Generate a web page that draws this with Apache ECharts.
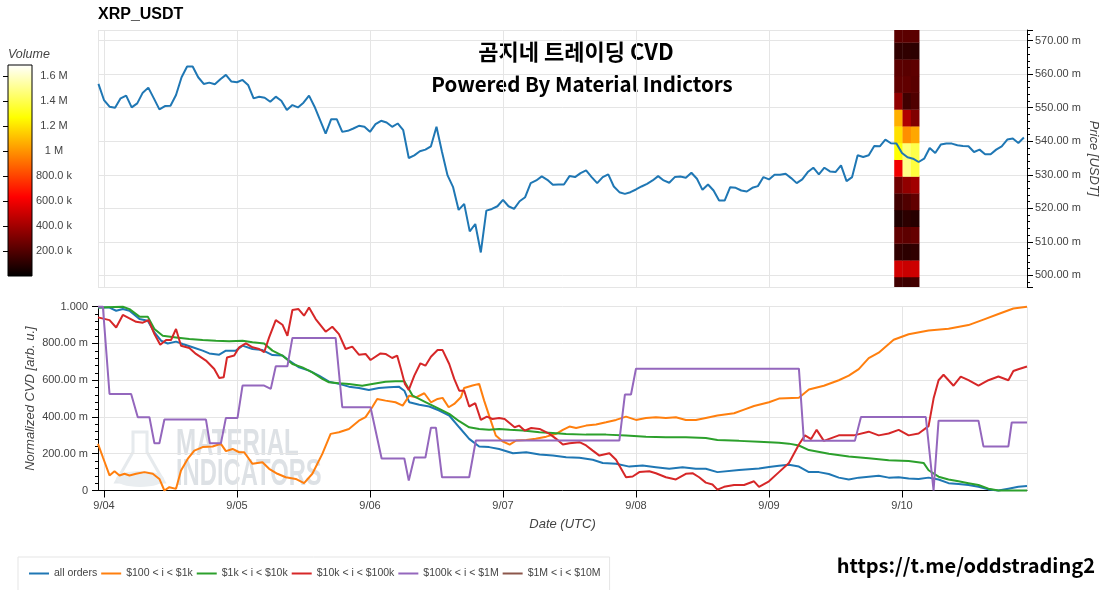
<!DOCTYPE html>
<html><head><meta charset="utf-8">
<script src="https://cdn.jsdelivr.net/npm/echarts@6/dist/echarts.min.js"></script>
<style>html,body{margin:0;padding:0;background:#fff}#c{width:1106px;height:590px}</style>
</head><body><div id="c"></div>
<script>
// ---------- data ----------
const BASE = Date.UTC(2023, 8, 4, 0, 0, 0); // 9/04 00:00 UTC
const HOUR = 3600e3, DAY = 24 * HOUR;
const X_MIN_H = -1.08, X_MAX_H = 166.56;
const dayLabels = ['9/04', '9/05', '9/06', '9/07', '9/08', '9/09', '9/10'];

// hourly price (in milli-USDT) starting at hour -1 (9/03 23:00)
const priceStartHour = -1;
const priceValues = [
  557.1, 552.3, 550.3, 550.0, 552.8, 553.6, 550.1, 551.3, 554.5, 556.0, 552.8,
  549.5, 550.5, 550.6, 553.8, 559.1, 562.3, 562.3, 559.1, 557.1, 557.5,
  557.0, 558.5, 559.8, 557.8, 557.6, 558.3, 556.8, 552.8, 553.3, 553.0,
  551.8, 553.3, 552.1, 549.3, 550.8, 550.1, 551.5, 553.6, 550.3, 546.3,
  542.3, 546.6, 546.6, 542.8, 543.1, 543.8, 544.6, 544.3, 542.8, 545.1,
  546.1, 545.6, 544.3, 545.3, 543.3, 535.0, 535.8, 537.0, 537.5, 538.5,
  544.3, 536.8, 529.8, 526.3, 519.5, 521.3, 513.1, 515.3, 506.8, 519.3,
  519.8, 520.6, 522.5, 520.6, 519.8, 522.1, 523.3, 527.5, 528.3, 529.5,
  528.5, 527.0, 527.1, 527.1, 529.6, 529.3, 530.5, 531.3, 529.3, 527.5,
  529.3, 530.1, 526.5, 524.8, 524.3, 524.8, 525.6, 526.5, 527.3, 528.3,
  529.6, 528.3, 527.6, 529.3, 529.5, 529.1, 530.6, 528.8, 525.5, 527.1,
  525.3, 522.3, 522.3, 526.3, 526.1, 525.3, 525.0, 526.1, 526.6, 529.3,
  528.6, 530.0, 530.0, 530.3, 529.0, 527.5, 528.6, 530.8, 532.1, 530.1,
  532.1, 531.0, 530.8, 532.8, 528.1, 529.3, 535.8, 535.3, 535.8, 538.6,
  538.5, 540.5, 539.4, 539.3, 536.5, 535.2, 534.8, 533.8, 534.8, 538.0,
  536.5, 539.0, 539.3, 539.3, 538.8, 538.6, 538.5, 536.8, 537.5, 536.1,
  536.1, 537.5, 538.5, 540.5, 540.8, 539.5, 541.1
];

// volume heat column: time centers (hours since 9/04), price bin centers, volumes [row][col]
const heatTimes = [143.35, 144.85, 146.35];
const heatPrices = [497, 502, 507, 512, 517, 522, 527, 532, 537, 542, 547, 552, 557, 562, 567, 572];
const heatVolumes = [
  [160000, 150000, 165000],
  [520000, 500000, 510000],
  [120000, 110000, 120000],
  [240000, 230000, 250000],
  [80000, 110000, 95000],
  [160000, 200000, 240000],
  [280000, 360000, 400000],
  [600000, 1490000, 1370000],
  [1270000, 1460000, 1390000],
  [1190000, 990000, 1050000],
  [1070000, 437000, 318000],
  [360000, 160000, 200000],
  [240000, 240000, 220000],
  [225000, 220000, 230000],
  [120000, 120000, 110000],
  [225000, 225000, 225000]
];
const VOL_MAX = 1690000;
const colorbarTicks = [200000, 400000, 600000, 800000, 1000000, 1200000, 1400000, 1600000];

// normalized CVD series: [hour since 9/04 00:00, value]
const cvdAll = [[-1.08,0.996],[1.0,0.995],[2.2,0.978],[3.4,0.987],[4.6,0.978],[6.4,0.933],[7.9,0.924],[9.1,0.86],[10.3,0.815],[11.5,0.8],[13.0,0.81],[14.2,0.797],[16.0,0.779],[17.8,0.761],[19.0,0.746],[20.8,0.739],[22.0,0.761],[23.8,0.761],[25.0,0.788],[26.8,0.77],[28.6,0.764],[30.4,0.737],[32.2,0.734],[33.4,0.707],[35.2,0.67],[37.0,0.652],[38.8,0.625],[40.6,0.592],[42.4,0.58],[44.2,0.565],[46.0,0.558],[47.8,0.547],[49.6,0.558],[51.4,0.562],[53.2,0.565],[54.2,0.543],[55.1,0.48],[56.9,0.467],[58.7,0.457],[60.5,0.435],[62.3,0.408],[64.1,0.344],[65.9,0.281],[67.7,0.239],[69.5,0.236],[71.3,0.226],[73.8,0.203],[76.2,0.208],[78.6,0.196],[81.0,0.19],[83.4,0.181],[85.8,0.178],[88.2,0.167],[90.0,0.15],[92.4,0.145],[94.8,0.13],[97.2,0.136],[99.6,0.127],[102.0,0.118],[104.4,0.127],[106.8,0.118],[108.6,0.118],[110.7,0.1],[114.6,0.112],[118.2,0.12],[120.0,0.128],[121.8,0.135],[123.6,0.14],[125.4,0.13],[127.2,0.1],[129.0,0.1],[130.8,0.09],[132.6,0.07],[134.4,0.06],[136.2,0.07],[138.0,0.075],[139.8,0.08],[141.6,0.07],[143.4,0.072],[145.2,0.065],[147.0,0.062],[148.8,0.07],[150.6,0.06],[152.4,0.04],[154.2,0.035],[156.0,0.03],[157.8,0.02],[159.6,0.006],[161.4,0.0],[163.2,0.01],[165.0,0.02],[166.56,0.025]];
const cvd100 = [[-1.08,0.254],[-0.2,0.181],[1.0,0.082],[1.9,0.105],[2.8,0.082],[3.7,0.091],[4.6,0.082],[5.8,0.091],[7.3,0.1],[8.8,0.091],[10.0,0.063],[10.9,0.0],[11.8,0.018],[13.0,0.009],[13.9,0.109],[15.1,0.172],[16.3,0.217],[17.8,0.236],[19.6,0.239],[21.1,0.254],[22.0,0.214],[23.2,0.226],[24.4,0.208],[25.3,0.208],[26.8,0.145],[28.6,0.154],[29.8,0.118],[31.3,0.091],[32.8,0.072],[34.6,0.063],[36.1,0.04],[37.6,0.091],[39.4,0.199],[40.9,0.308],[42.4,0.317],[44.2,0.335],[46.0,0.38],[47.2,0.399],[48.4,0.453],[49.3,0.498],[50.8,0.489],[52.6,0.48],[53.9,0.462],[55.1,0.516],[56.3,0.507],[57.8,0.529],[59.0,0.48],[60.2,0.498],[61.1,0.504],[62.2,0.453],[63.2,0.471],[64.4,0.507],[65.0,0.558],[66.5,0.571],[67.7,0.58],[68.6,0.489],[69.8,0.38],[70.7,0.299],[71.9,0.268],[73.2,0.25],[74.4,0.272],[76.2,0.275],[77.9,0.281],[79.8,0.293],[81.6,0.308],[82.8,0.33],[84.0,0.348],[85.2,0.34],[87.0,0.353],[88.8,0.359],[90.6,0.371],[92.4,0.384],[94.2,0.402],[96.0,0.384],[97.8,0.395],[99.6,0.399],[101.4,0.395],[103.2,0.399],[105.0,0.384],[106.8,0.384],[108.6,0.395],[110.7,0.408],[113.7,0.42],[115.5,0.44],[117.3,0.46],[120.0,0.48],[121.8,0.5],[125.4,0.505],[127.2,0.55],[129.9,0.57],[132.6,0.6],[134.4,0.625],[136.2,0.66],[138.0,0.72],[139.8,0.75],[142.5,0.82],[145.2,0.85],[148.8,0.87],[152.4,0.88],[156.0,0.9],[158.7,0.93],[161.4,0.96],[164.1,0.99],[166.56,1.0]];
const cvd1k = [[-1.08,0.996],[3.4,1.0],[4.6,0.987],[6.4,0.946],[7.9,0.946],[9.1,0.879],[10.6,0.842],[13.0,0.833],[15.4,0.824],[17.8,0.819],[20.2,0.815],[22.6,0.812],[25.0,0.815],[26.8,0.806],[28.9,0.8],[30.4,0.761],[32.2,0.734],[34.0,0.688],[35.8,0.67],[37.6,0.643],[39.4,0.607],[40.6,0.589],[42.4,0.583],[44.2,0.58],[46.6,0.57],[48.4,0.58],[50.8,0.592],[52.6,0.594],[54.2,0.594],[55.7,0.516],[58.1,0.48],[60.5,0.444],[62.3,0.417],[64.1,0.377],[65.9,0.344],[67.7,0.335],[69.5,0.331],[71.3,0.335],[73.2,0.33],[75.6,0.326],[78.6,0.317],[81.0,0.313],[83.4,0.308],[87.0,0.304],[90.6,0.304],[94.2,0.299],[97.8,0.293],[101.4,0.29],[105.0,0.29],[108.6,0.286],[110.7,0.275],[114.6,0.27],[118.2,0.265],[121.8,0.26],[123.6,0.255],[125.4,0.245],[127.2,0.22],[130.8,0.2],[134.4,0.185],[138.0,0.175],[141.6,0.165],[145.2,0.16],[147.9,0.15],[148.8,0.11],[150.6,0.075],[152.4,0.06],[154.2,0.05],[156.0,0.04],[157.8,0.03],[159.6,0.01],[161.4,0.0],[166.56,0.0]];
const cvd10k = [[-1.08,0.942],[1.0,0.927],[2.2,0.887],[3.4,0.955],[4.6,0.937],[5.8,0.918],[7.0,0.913],[8.05,0.927],[9.1,0.851],[10.15,0.793],[11.2,0.819],[12.1,0.819],[13.0,0.879],[13.9,0.788],[15.4,0.775],[16.6,0.743],[18.4,0.707],[19.9,0.661],[20.8,0.612],[21.6,0.616],[22.2,0.724],[23.5,0.734],[24.4,0.779],[25.6,0.8],[26.8,0.779],[28.0,0.77],[28.9,0.752],[29.8,0.833],[31.0,0.927],[32.2,0.902],[33.1,0.842],[34.0,0.982],[35.1,0.987],[36.1,0.951],[37.0,0.996],[38.2,0.933],[40.0,0.864],[41.2,0.891],[42.4,0.851],[43.6,0.77],[44.8,0.783],[46.0,0.739],[47.2,0.743],[48.1,0.71],[49.9,0.746],[50.8,0.743],[52.0,0.721],[52.9,0.734],[53.6,0.66],[54.3,0.58],[55.0,0.547],[56.0,0.625],[57.1,0.692],[58.0,0.679],[59.0,0.728],[60.2,0.764],[61.1,0.764],[62.3,0.688],[63.2,0.607],[64.1,0.543],[65.0,0.543],[65.9,0.457],[67.0,0.475],[68.0,0.384],[69.1,0.402],[70.1,0.389],[71.3,0.395],[72.3,0.389],[74.1,0.344],[74.9,0.353],[75.9,0.326],[77.1,0.34],[78.6,0.335],[80.4,0.308],[81.6,0.281],[82.8,0.25],[84.0,0.257],[85.8,0.263],[87.0,0.245],[88.2,0.217],[89.4,0.19],[91.2,0.203],[92.4,0.167],[94.2,0.072],[95.4,0.076],[96.6,0.1],[98.4,0.105],[99.6,0.094],[101.4,0.072],[103.2,0.06],[105.0,0.091],[106.2,0.094],[107.4,0.072],[108.6,0.043],[109.8,0.033],[110.7,0.005],[111.9,0.02],[113.7,0.03],[115.5,0.03],[117.3,0.05],[118.2,0.02],[120.0,0.05],[121.8,0.1],[123.6,0.15],[125.4,0.25],[126.5,0.3],[127.6,0.28],[128.6,0.33],[129.9,0.27],[132.6,0.3],[135.3,0.3],[138.0,0.32],[139.8,0.3],[141.6,0.31],[143.4,0.33],[145.2,0.3],[147.0,0.31],[148.8,0.35],[149.7,0.5],[150.6,0.6],[151.5,0.63],[153.3,0.57],[154.6,0.62],[156.0,0.6],[157.8,0.57],[159.6,0.6],[161.4,0.62],[163.2,0.6],[164.1,0.65],[165.0,0.66],[166.56,0.675]];
const cvd100k = [[-1.08,1.0],[-0.2,1.0],[1.0,0.525],[4.9,0.525],[6.1,0.399],[8.2,0.399],[9.1,0.257],[10.0,0.257],[10.9,0.386],[18.4,0.386],[19.1,0.257],[21.1,0.257],[22.0,0.395],[24.1,0.395],[25.0,0.571],[28.9,0.571],[30.1,0.553],[31.0,0.676],[33.1,0.676],[34.0,0.83],[41.8,0.83],[43.0,0.453],[48.1,0.453],[50.1,0.174],[54.2,0.174],[55.0,0.054],[56.0,0.179],[58.0,0.179],[59.0,0.342],[59.9,0.342],[61.0,0.072],[65.9,0.072],[67.1,0.272],[93.0,0.272],[94.0,0.522],[95.1,0.522],[96.0,0.663],[125.4,0.663],[126.3,0.27],[135.5,0.27],[136.6,0.4],[148.3,0.4],[149.7,0.0],[150.6,0.38],[157.8,0.38],[158.7,0.24],[163.2,0.24],[163.8,0.37],[166.56,0.37]];
const cvd1M = [];

const cvdNames = ['all orders', '$100 < i < $1k', '$1k < i < $10k', '$10k < i < $100k', '$100k < i < $1M', '$1M < i < $10M'];
const cvdColors = ['#1f77b4', '#ff7f0e', '#2ca02c', '#d62728', '#9467bd', '#8c564b'];
const cvdData = [cvdAll, cvd100, cvd1k, cvd10k, cvd100k, cvd1M];

// ---------- build ----------
const toTs = h => BASE + h * HOUR;
const pricePoints = priceValues.map((v, i) => [toTs(priceStartHour + i), v]);
const heatData = [];
heatPrices.forEach((p, r) => heatTimes.forEach((t, c) => heatData.push([toTs(t), p, heatVolumes[r][c]])));
const HEAT_W = 1.5 * HOUR, PRICE_BIN = 5;

const HOT = ['#000000', '#550000', '#aa0000', '#ff0000', '#ff5500', '#ffaa00', '#ffff00', '#ffff80', '#ffffff'];
const FONT = 'Liberation Sans';
const AX = '#444';

const timeAxisBase = {
  type: 'time', min: toTs(X_MIN_H), max: toTs(X_MAX_H),
  minInterval: DAY, maxInterval: DAY,
  splitLine: { show: true, lineStyle: { color: '#e5e5e5', width: 1 } }
};
const dayFmt = v => {
  const idx = Math.round((v - BASE) / DAY);
  return dayLabels[idx] !== undefined && Math.abs(v - (BASE + idx * DAY)) < HOUR ? dayLabels[idx] : '';
};

const chart = echarts.init(document.getElementById('c'));
chart.setOption({
  animation: false,
  useUTC: true,
  backgroundColor: '#fff',
  grid: [
    { left: 98, top: 30, width: 929, height: 257, outerBoundsMode: 'none', containLabel: false },
    { left: 98, top: 306.7, width: 929, height: 183.8, outerBoundsMode: 'none', containLabel: false },
    { left: 8, top: 65, width: 24, height: 211, show: true, borderColor: '#000', borderWidth: 1, outerBoundsMode: 'none', containLabel: false,
      backgroundColor: new echarts.graphic.LinearGradient(0, 1, 0, 0, HOT.map((c, i) => ({ offset: i / (HOT.length - 1), color: c }))) }
  ],
  xAxis: [
    Object.assign({}, timeAxisBase, { gridIndex: 0, axisLine: { show: false }, axisTick: { show: false }, axisLabel: { show: false } }),
    Object.assign({}, timeAxisBase, {
      gridIndex: 1,
      axisLine: { show: true, lineStyle: { color: '#000', width: 1 } },
      axisTick: { show: true, length: 7, lineStyle: { color: '#000' } },
      axisLabel: { formatter: dayFmt, color: AX, fontSize: 11, fontFamily: FONT, margin: 10, showMinLabel: false, showMaxLabel: false },
      name: 'Date (UTC)', nameLocation: 'middle', nameGap: 27,
      nameTextStyle: { fontStyle: 'italic', fontSize: 13, color: AX, fontFamily: FONT }
    }),
    { gridIndex: 2, type: 'value', show: false, min: 0, max: 1 }
  ],
  yAxis: [
    { gridIndex: 0, type: 'value', position: 'right', min: 496.5, max: 573.2, splitNumber: 8, scale: true,
      axisLine: { show: true, lineStyle: { color: '#000' } },
      axisTick: { show: true, length: 6, lineStyle: { color: '#000' } },
      minorTick: { show: true, splitNumber: 5, length: 3, lineStyle: { color: '#000' } },
      axisLabel: { formatter: v => v.toFixed(2) + ' m', color: AX, fontSize: 11, fontFamily: FONT, margin: 8, showMinLabel: false, showMaxLabel: false },
      splitLine: { show: true, lineStyle: { color: '#e5e5e5' } },
      name: 'Price [USDT]', nameLocation: 'middle', nameGap: 60, nameRotate: -90, nameMoveOverlap: false,
      nameTextStyle: { fontStyle: 'italic', fontSize: 13, color: AX, fontFamily: FONT } },
    { gridIndex: 1, type: 'value', min: 0, max: 1, interval: 0.2,
      axisLine: { show: true, lineStyle: { color: '#000' } },
      axisTick: { show: true, length: 6, lineStyle: { color: '#000' } },
      minorTick: { show: true, splitNumber: 5, length: 3, lineStyle: { color: '#000' } },
      axisLabel: { formatter: v => v === 0 ? '0' : (v >= 1 ? v.toFixed(3) : (v * 1000).toFixed(2) + ' m'), color: AX, fontSize: 11, fontFamily: FONT, margin: 10 },
      splitLine: { show: true, lineStyle: { color: '#e5e5e5' } },
      name: 'Normalized CVD [arb. u.]', nameLocation: 'middle', nameGap: 61, nameMoveOverlap: false,
      nameTextStyle: { fontStyle: 'italic', fontSize: 13, color: AX, fontFamily: FONT } },
    { gridIndex: 2, type: 'value', position: 'right', min: 0, max: VOL_MAX, interval: 200000,
      axisLine: { show: false },
      axisTick: { show: true, inside: true, length: 5, lineStyle: { color: '#000' } },
      splitLine: { show: false },
      axisLabel: { color: AX, fontSize: 11, fontFamily: FONT, margin: 22, align: 'center', showMinLabel: false, showMaxLabel: false,
        formatter: v => colorbarTicks.indexOf(v) < 0 ? '' : (v >= 1e6 ? parseFloat((v / 1e6).toFixed(2)) + ' M' : (v / 1e3).toFixed(1) + ' k') } }
  ],
  visualMap: {
    type: 'continuous', show: false, min: 0, max: VOL_MAX, dimension: 2, seriesIndex: 0,
    inRange: { color: HOT }
  },
  legend: {
    data: cvdNames, left: 18, top: 557, orient: 'horizontal',
    icon: 'rect', itemWidth: 20, itemHeight: 2, itemGap: 4,
    padding: [11, 9, 14, 11], borderColor: '#e5e5e5', borderWidth: 1, backgroundColor: '#fff',
    textStyle: { fontSize: 10.5, color: AX, fontFamily: FONT }
  },
  series: [
    { type: 'custom', name: 'volume', xAxisIndex: 0, yAxisIndex: 0, data: heatData, z: 1,
      encode: { x: 0, y: 1 },
      renderItem: (params, api) => {
        const t = api.value(0), p = api.value(1);
        const a = api.coord([t - HEAT_W / 2, p + PRICE_BIN / 2]);
        const b = api.coord([t + HEAT_W / 2, p - PRICE_BIN / 2]);
        const cs = params.coordSys;
        const r = echarts.graphic.clipRectByRect(
          { x: a[0], y: a[1], width: b[0] - a[0] + 0.3, height: b[1] - a[1] + 0.3 },
          { x: cs.x, y: cs.y, width: cs.width, height: cs.height });
        return r && { type: 'rect', shape: r, style: { fill: api.visual('color') } };
      } },
    { type: 'line', name: 'price', xAxisIndex: 0, yAxisIndex: 0, data: pricePoints, z: 5,
      showSymbol: false, symbol: 'none', lineStyle: { color: '#1f77b4', width: 2 }, itemStyle: { color: '#1f77b4' } }
  ].concat(cvdData.map((d, i) => ({
    type: 'line', name: cvdNames[i], xAxisIndex: 1, yAxisIndex: 1, data: d.map(p => [toTs(p[0]), p[1]]),
    showSymbol: false, symbol: 'none', clip: false, z: 3,
    lineStyle: { color: cvdColors[i], width: 2 }, itemStyle: { color: cvdColors[i] }
  }))),
  graphic: [
    { type: 'text', left: 98, top: 7, style: { text: 'XRP_USDT', font: 'bold 16px "Liberation Sans"', fill: '#000' } },
    { type: 'text', x: 576, y: 52, style: { text: '곰지네 트레이딩 CVD', font: 'bold 22px "Noto Sans CJK KR"', fill: '#000', textAlign: 'center', textVerticalAlign: 'middle' } },
    { type: 'text', x: 582, y: 84, style: { text: 'Powered By Material Indictors', font: 'bold 20.5px "Noto Sans CJK KR"', fill: '#000', textAlign: 'center', textVerticalAlign: 'middle' } },
    { type: 'text', x: 1095, y: 565, style: { text: 'https://t.me/oddstrading2', font: 'bold 20px "Noto Sans CJK KR"', fill: '#000', textAlign: 'right', textVerticalAlign: 'middle' } },
    { type: 'text', x: 8, y: 55, style: { text: 'Volume', font: 'italic 12.5px "Liberation Sans"', fill: AX, textVerticalAlign: 'middle' } },
    // watermark
    { type: 'group', z: -1, silent: true, children: [
      { type: 'polygon', shape: { points: [[133, 432], [147, 432], [147, 452], [164, 482], [116, 482], [133, 452]] },
        style: { fill: 'none', stroke: '#e6eaed', lineWidth: 3 } },
      { type: 'ellipse', shape: { cx: 140, cy: 479, rx: 24, ry: 8 }, style: { fill: '#e9edf0' } },
      { type: 'text', x: 176, y: 445, scaleX: 0.67, style: { text: 'MATERIAL', font: 'bold 36px "Liberation Sans"', fill: '#dde1e5', textVerticalAlign: 'middle' } },
      { type: 'text', x: 176, y: 475, scaleX: 0.66, style: { text: 'INDICATORS', font: 'bold 36px "Liberation Sans"', fill: '#dde1e5', textVerticalAlign: 'middle' } }
    ] }
  ]
});
</script></body></html>
